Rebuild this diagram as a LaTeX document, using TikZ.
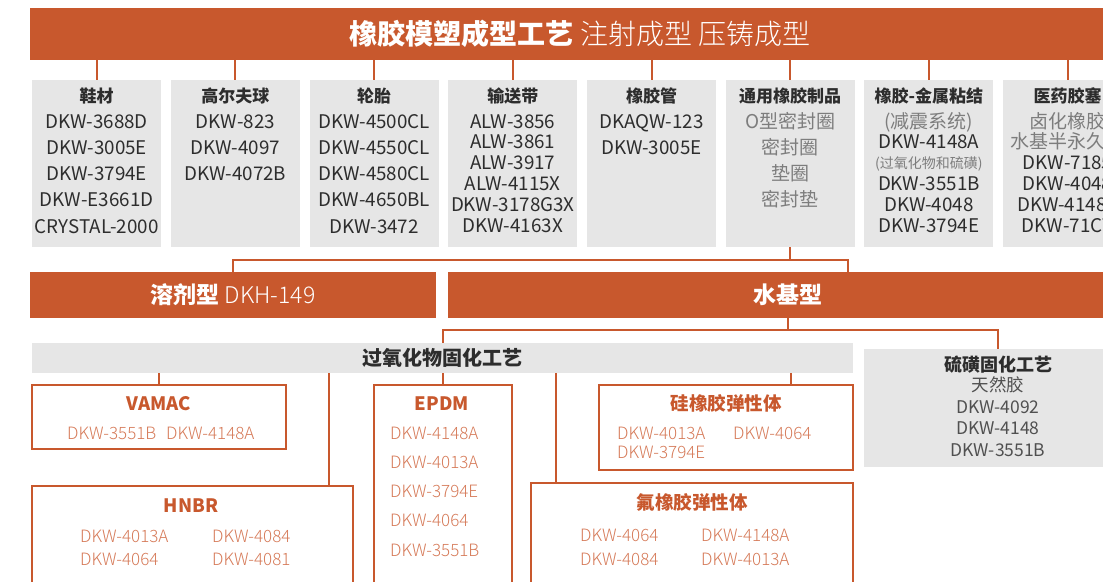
\documentclass[tikz,border=0pt]{standalone}
\usepackage{fontspec}
\setmainfont{Noto Sans CJK SC}
\newfontfamily\lightfont{Noto Sans CJK SC Light}
\usetikzlibrary{positioning}
\newcommand\fs[1]{\fontsize{#1}{#1}\selectfont}
\definecolor{band_orange}{RGB}{200,88,45}
\definecolor{box_gray}{RGB}{230,230,230}
\definecolor{text_dark}{RGB}{45,45,45}
\definecolor{text_mid}{RGB}{80,80,80}
\definecolor{text_gray}{RGB}{125,125,125}
\definecolor{item_orange}{RGB}{214,122,88}

\begin{document}
\begin{tikzpicture}[x=1pt,y=-1pt]
    \tikzstyle{band}=[fill=band_orange, text=white, inner sep=0pt]
    \tikzstyle{gbox}=[fill=box_gray, inner sep=0pt, anchor=north west, minimum width=129pt, minimum height=167pt]
    \tikzstyle{obox}=[draw=band_orange, line width=2.5pt, fill=white, inner sep=0pt]
    \tikzstyle{link}=[draw=band_orange, line width=2pt]
    \tikzstyle{txt}=[inner sep=0pt, text depth=0pt]
    \tikzstyle{gttl}=[style=txt, text height=12.3pt, text=text_dark, font=\fs{17}\bfseries]
    \tikzstyle{gitem}=[style=txt, text height=13.5pt, text=text_dark, font=\fs{18.8}]
    \tikzstyle{gnote}=[style=txt, text height=13.7pt, text=text_gray, font=\fs{19}]
    \tikzstyle{ottl}=[style=txt, text height=13.3pt, text=band_orange, font=\fs{18.5}\bfseries]
    \tikzstyle{oitem}=[style=txt, text height=12.2pt, text=item_orange, font=\fs{17}\lightfont, anchor=west]

    \useasboundingbox (0,0) rectangle (1103,581);
    \clip (0,0) rectangle (1103,581);

    % top band
    \node[band, minimum width=1100pt, minimum height=52pt] (top) at (580,34)
      {\fs{28}\textbf{橡胶模塑成型工艺} {\lightfont 注射成型 压铸成型}};

    % application boxes
    \foreach \i/\name in {1/鞋材,2/高尔夫球,3/轮胎,4/输送带,5/橡胶管,6/通用橡胶制品,7/橡胶-金属粘结,8/医药胶塞}{
      \node[gbox] (b\i) at ({32+138.7*(\i-1)},80) {};
      \node[gttl] (t\i) at (b\i.north |- 0,96) {\name};
      \draw[link] (top.south -| b\i.north) -- (b\i.north);
    }
    \foreach \y/\s in {122/DKW-3688D,148/DKW-3005E,174/DKW-3794E,200/DKW-E3661D,227/CRYSTAL-2000}
      \node[gitem] at (b1.north |- 0,\y) {\s};
    \foreach \y/\s in {122/DKW-823,148/DKW-4097,174/DKW-4072B}
      \node[gitem] at (b2.north |- 0,\y) {\s};
    \foreach \y/\s in {122/DKW-4500CL,148/DKW-4550CL,174/DKW-4580CL,200/DKW-4650BL,227/DKW-3472}
      \node[gitem] at (b3.north |- 0,\y) {\s};
    \foreach \y/\s in {122/ALW-3856,142/ALW-3861,163/ALW-3917,184/ALW-4115X,205/DKW-3178G3X,226/DKW-4163X}
      \node[gitem] at (b4.north |- 0,\y) {\s};
    \foreach \y/\s in {122/DKAQW-123,148/DKW-3005E}
      \node[gitem] at (b5.north |- 0,\y) {\s};
    \foreach \y/\s in {122/O型密封圈,148/密封圈,174/垫圈,200/密封垫}
      \node[gnote] at (b6.north |- 0,\y) {\s};
    \node[gnote] at (b7.north |- 0,122) {(减震系统)};
    \node[gnote, font=\fs{14}, text height=10pt] at (b7.north |- 0,163) {(过氧化物和硫磺)};
    \foreach \y/\s in {142/DKW-4148A,184/DKW-3551B,205/DKW-4048,226/DKW-3794E}
      \node[gitem] at (b7.north |- 0,\y) {\s};
    \node[gnote] at (b8.north |- 0,122) {卤化橡胶};
    \node[gnote] at (b8.north |- 0,142) {水基半永久型};
    \foreach \y/\s in {163/DKW-7185,184/DKW-4048,205/DKW-4148A,226/DKW-71CT}
      \node[gitem] at (b8.north |- 0,\y) {\s};

    % solvent / water based
    \node[band, minimum width=406pt, minimum height=46pt] (solv) at (233,295)
      {\fs{23}\textbf{溶剂型} {\lightfont DKH-149}};
    \node[band, minimum width=680pt, minimum height=46pt] (wat) at (788,295)
      {\fs{23}\textbf{水基型}};
    \draw[link] (b6.south) -- ++(0,13) coordinate (bus);
    \draw[link] (solv.north) |- (bus) -| ([xshift=60pt]wat.north);

    % curing processes
    \node[fill=box_gray, inner sep=0pt, minimum width=821pt, minimum height=30pt, text=text_dark]
      (perox) at (442.5,358) {\fs{20}\bfseries 过氧化物固化工艺};
    \node[fill=box_gray, inner sep=0pt, minimum width=268pt, minimum height=118pt] (sulf) at (998,408) {};
    \node[gttl, font=\fs{18}\bfseries, text height=13pt] at (sulf.north |- 0,365) {硫磺固化工艺};
    \node[gnote, text=text_mid, font=\fs{17.5}, text height=12.6pt] at (sulf.north |- 0,385) {天然胶};
    \foreach \y/\s in {407/DKW-4092,428/DKW-4148,450/DKW-3551B}
      \node[gitem, text=text_mid, font=\fs{17.5}, text height=12.6pt] at (sulf.north |- 0,\y) {\s};
    \draw[link] (wat.south) -- ++(0,12) coordinate (bus2);
    \draw[link] (perox.north) |- (bus2) -| (sulf.north);

    % rubber types
    \node[obox, minimum width=254pt, minimum height=64pt] (vamac) at (159,417) {};
    \node[obox, minimum width=321pt, minimum height=110pt] (hnbr) at (192.5,541) {};
    \node[obox, minimum width=138pt, minimum height=211pt] (epdm) at (443,490.5) {};
    \node[obox, minimum width=254pt, minimum height=85pt] (sil) at (726,427.5) {};
    \node[obox, minimum width=322pt, minimum height=113pt] (flu) at (692,539.5) {};
    \coordinate (hnbrin) at ([xshift=-25pt]hnbr.north east);
    \coordinate (silin) at ([xshift=-63.5pt]sil.north east);
    \coordinate (fluin) at ([xshift=26pt]flu.north west);
    \draw[link] (perox.south -| vamac.north) -- (vamac.north);
    \draw[link] (perox.south -| hnbrin) -- (hnbrin);
    \draw[link] (perox.south -| epdm.north) -- (epdm.north);
    \draw[link] (perox.south -| silin) -- (silin);
    \draw[link] (perox.south -| fluin) -- (fluin);

    \node[ottl] at (159,404) {VAMAC};
    \node[ottl] at (191,506) {HNBR};
    \node[ottl] at (442,404) {EPDM};
    \node[ottl] at (726,404) {硅橡胶弹性体};
    \node[ottl] at (692,503) {氟橡胶弹性体};
    \foreach \x/\y/\s in {67/433/DKW-3551B,166/433/DKW-4148A}
      \node[oitem] at (\x,\y) {\s};
    \foreach \x/\y/\s in {80/536/DKW-4013A,80/559/DKW-4064,212/536/DKW-4084,212/559/DKW-4081}
      \node[oitem] at (\x,\y) {\s};
    \foreach \y/\s in {433/DKW-4148A,462/DKW-4013A,491/DKW-3794E,520/DKW-4064,550/DKW-3551B}
      \node[oitem] at (390,\y) {\s};
    \foreach \x/\y/\s in {617/433/DKW-4013A,733/433/DKW-4064,617/452/DKW-3794E}
      \node[oitem] at (\x,\y) {\s};
    \foreach \x/\y/\s in {580/535/DKW-4064,580/559/DKW-4084,701/535/DKW-4148A,701/559/DKW-4013A}
      \node[oitem] at (\x,\y) {\s};
\end{tikzpicture}
\end{document}
